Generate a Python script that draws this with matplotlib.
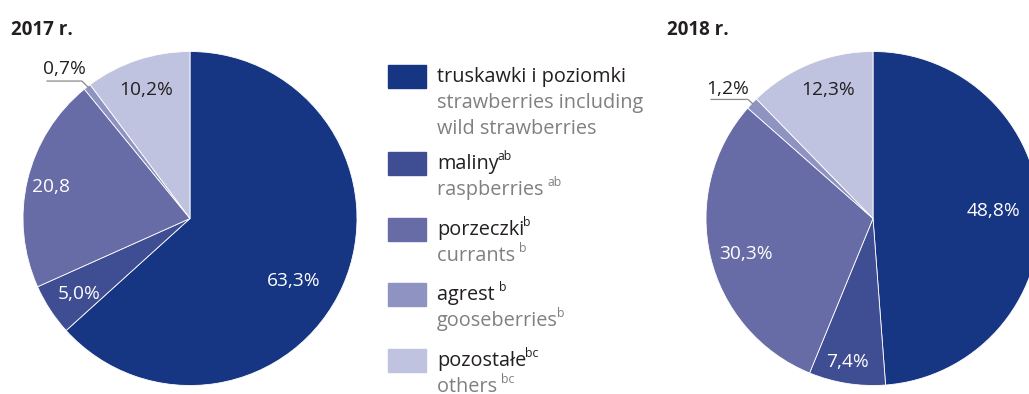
import numpy as np
import matplotlib.pyplot as plt
from matplotlib.patches import Rectangle

plt.rcParams['font.family'] = ['Open Sans', 'DejaVu Sans']

# fruit shares, % of area
names_pl = ['truskawki i poziomki', 'maliny', 'porzeczki', 'agrest ', 'pozostałe']
names_en = ['strawberries including\nwild strawberries', 'raspberries ', 'currants ',
            'gooseberries', 'others ']
sup_pl = ['', 'ab', 'b', 'b', 'bc']
sup_en = ['', 'ab', 'b', 'b', 'bc']
shares_2017 = [63.3, 5.0, 20.8, 0.7, 10.2]
shares_2018 = [48.8, 7.4, 30.3, 1.2, 12.3]
labels_2017 = ['63,3%', '5,0%', '20,8', '0,7%', '10,2%']
labels_2018 = ['48,8%', '7,4%', '30,3%', '1,2%', '12,3%']

colors = ['#163583', '#3F4D93', '#676BA6', '#8F93C1', '#C0C3DF']
text_dark = '#231F20'
text_grey = '#808080'

W, H = 1029, 394
fig = plt.figure(figsize=(W / 100, H / 100), dpi=100)


def px_axes(x0, y_top, size):
    return fig.add_axes([x0 / W, (H - y_top - size) / H, size / W, size / H])


def draw_pie(ax, shares, labels, label_xy, label_colors, leader):
    ax.pie(shares, colors=colors, startangle=90, counterclock=False, radius=1,
           wedgeprops=dict(edgecolor='white', linewidth=0.6))
    for lab, (x, y), c in zip(labels, label_xy, label_colors):
        ax.text(x, y, lab, ha='center', va='center', fontsize=13.8, color=c)
    lx, ly = zip(*leader)
    ax.plot(lx, ly, color='#8a8a8a', lw=0.9, clip_on=False)
    ax.set_xlim(-1, 1)
    ax.set_ylim(-1, 1)
    ax.set_aspect('equal')
    ax.axis('off')


white = 'white'
ax1 = px_axes(23, 51.5, 334)
draw_pie(ax1, shares_2017, labels_2017,
         [(0.623, -0.374), (-0.665, -0.452), (-0.832, 0.189), (-0.754, 0.895), (-0.263, 0.769)],
         [white, white, white, text_dark, text_dark],
         [(-0.856, 0.823), (-0.647, 0.823), (-0.605, 0.781)])

ax2 = px_axes(706, 51.5, 334)
draw_pie(ax2, shares_2018, labels_2018,
         [(0.719, 0.045), (-0.150, -0.859), (-0.760, -0.213), (-0.868, 0.775), (-0.269, 0.769)],
         [white, white, white, text_dark, text_dark],
         [(-0.970, 0.713), (-0.749, 0.713), (-0.719, 0.686)])

fig.text(11 / W, 1 - 35 / H, '2017 r.', fontsize=13.5, fontweight='bold', color=text_dark)
fig.text(667 / W, 1 - 35 / H, '2018 r.', fontsize=13.5, fontweight='bold', color=text_dark)

# legend, built by hand
renderer = fig.canvas.get_renderer()


def with_sup(x, y, main, sup, color, size):
    t = fig.text(x / W, 1 - y / H, main, fontsize=size, color=color, va='baseline')
    if sup:
        bb = t.get_window_extent(renderer)
        fig.text((bb.x1 - 1) / W, 1 - (y - 9) / H, sup, fontsize=size * 0.62,
                 color=color, va='baseline')


box_tops = [65, 152, 218, 283, 349]
for i, top in enumerate(box_tops):
    fig.patches.append(Rectangle((388 / W, 1 - (top + 23) / H), 38 / W, 23 / H,
                                 transform=fig.transFigure, color=colors[i]))
    base = top + 17
    with_sup(437, base, names_pl[i], sup_pl[i], text_dark, 14.3)
    en_lines = names_en[i].split('\n')
    for j, line in enumerate(en_lines):
        sup = sup_en[i] if j == len(en_lines) - 1 else ''
        with_sup(437, base + 26 * (j + 1), line, sup, text_grey, 14.3)

fig.savefig('out.png', dpi=100)
